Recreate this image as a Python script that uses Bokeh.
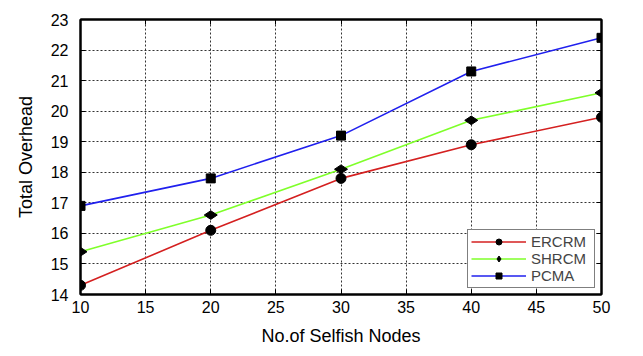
import math
from bokeh.plotting import figure
from bokeh.models import LinearAxis, FixedTicker, Legend, LegendItem, Range1d
from bokeh.embed import file_html
from bokeh.resources import INLINE

nodes = [10, 20, 30, 40, 50]
ercrm = [14.3, 16.1, 17.8, 18.9, 19.8]
shrcm = [15.4, 16.6, 18.1, 19.7, 20.6]
pcma = [16.9, 17.8, 19.2, 21.3, 22.4]
x_ticks = [10, 15, 20, 25, 30, 35, 40, 45, 50]
y_ticks = [14, 15, 16, 17, 18, 19, 20, 21, 22, 23]

FONT = "Liberation Sans"

p = figure(width=635, height=348, output_backend="svg", toolbar_location=None,
           x_range=Range1d(10, 50), y_range=Range1d(14, 23),
           min_border_left=80, min_border_right=34, min_border_top=19, min_border_bottom=51,
           x_axis_label="No.of Selfish Nodes", y_axis_label="Total Overhead")

p.outline_line_color = "black"
p.outline_line_width = 2
p.background_fill_color = "white"
p.border_fill_color = "white"

for ax in p.xaxis + p.yaxis:
    ax.major_tick_in = 5
    ax.major_tick_out = 0
    ax.minor_tick_in = 0
    ax.minor_tick_out = 0
    ax.axis_line_color = "black"
    ax.axis_line_width = 2
    ax.major_label_text_font = FONT
    ax.major_label_text_font_size = "16px"
    ax.major_label_text_color = "black"
    ax.axis_label_text_font = FONT
    ax.axis_label_text_font_size = "18px"
    ax.axis_label_text_font_style = "normal"
    ax.axis_label_text_color = "black"
p.xaxis.ticker = FixedTicker(ticks=x_ticks)
p.yaxis.ticker = FixedTicker(ticks=y_ticks)
p.xaxis.major_label_standoff = 6
p.yaxis.major_label_standoff = 12
p.xaxis.axis_label_standoff = 10
p.yaxis.axis_label_standoff = 12

for loc, tk in (("above", x_ticks), ("right", y_ticks)):
    a = LinearAxis(ticker=FixedTicker(ticks=tk), major_label_text_font_size="0px",
                   major_tick_in=5, major_tick_out=0, minor_tick_in=0, minor_tick_out=0,
                   axis_line_color="black", axis_line_width=2)
    a.major_label_text_alpha = 0
    p.add_layout(a, loc)

p.xgrid.ticker = FixedTicker(ticks=x_ticks)
p.ygrid.ticker = FixedTicker(ticks=y_ticks)
for g in (p.xgrid[0], p.ygrid[0]):
    g.grid_line_color = "black"
    g.grid_line_dash = "2 2"
    g.grid_line_width = 1
    g.grid_line_alpha = 0.8

l1 = p.line(nodes, ercrm, line_color="#d42020", line_width=1.6)
m1 = p.scatter(nodes, ercrm, marker="circle", size=10, fill_color="black", line_color="black")
l2 = p.line(nodes, shrcm, line_color="#7fff2a", line_width=1.6)
m2 = p.scatter(nodes, shrcm, marker="diamond", size=13, angle=math.pi / 2,
               fill_color="black", line_color="black")
l3 = p.line(nodes, pcma, line_color="#2020ee", line_width=1.6)
m3 = p.scatter(nodes, pcma, marker="square", size=9, fill_color="black", line_color="black")

legend = Legend(items=[
    LegendItem(label="ERCRM", renderers=[l1, m1]),
    LegendItem(label="SHRCM", renderers=[l2, m2]),
    LegendItem(label="PCMA", renderers=[l3, m3]),
], location="bottom_right")
legend.label_text_font = FONT
legend.label_text_font_size = "15px"
legend.label_height = 15
legend.glyph_height = 15
legend.glyph_width = 55
legend.label_width = 60
legend.spacing = 0
legend.padding = 3
legend.margin = 6
legend.label_standoff = 5
legend.border_line_color = "black"
legend.border_line_width = 1.5
legend.background_fill_alpha = 1
p.add_layout(legend, "center")

open("out.html", "w").write(file_html(p, INLINE))
